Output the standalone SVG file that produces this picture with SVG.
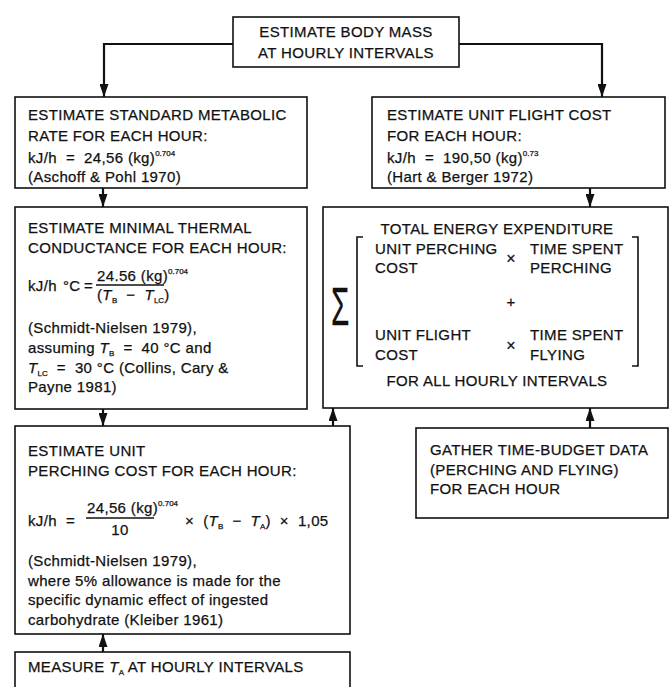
<svg xmlns="http://www.w3.org/2000/svg" width="671" height="687" viewBox="0 0 671 687">
<style>
text{font-family:"Liberation Sans",Arial,sans-serif;font-size:15px;fill:#111;stroke:#111;stroke-width:0.25;letter-spacing:0.35px}
.box{fill:#fff;stroke:#111;stroke-width:1.6}
.con{fill:none;stroke:#111;stroke-width:2.2}
.br{fill:none;stroke:#111;stroke-width:1.6}
.sup{font-size:8px;letter-spacing:0}
.sub{font-size:8px;letter-spacing:0}
.it{font-style:italic}
.mid{text-anchor:middle}
.op{font-size:16px}
</style>
<defs>
<marker id="ah" viewBox="0 0 13 9" refX="13" refY="4.5" markerWidth="13" markerHeight="9" markerUnits="userSpaceOnUse" orient="auto">
<path d="M0,0 L13,4.5 L0,9 z" fill="#111"/>
</marker>
</defs>
<rect width="671" height="687" fill="#fff"/>

<g id="connectors">
<path class="con" d="M233,44 H104 V97" marker-end="url(#ah)"/>
<path class="con" d="M459,44 H602 V97" marker-end="url(#ah)"/>
<path class="con" d="M103,188 V207" marker-end="url(#ah)"/>
<path class="con" d="M103,409 V426" marker-end="url(#ah)"/>
<path class="con" d="M103,652 V634" marker-end="url(#ah)"/>
<path class="con" d="M590,188 V207" marker-end="url(#ah)"/>
<path class="con" d="M333,426 V408" marker-end="url(#ah)"/>
<path class="con" d="M590,428 V408" marker-end="url(#ah)"/>
</g>

<g id="body-mass">
<rect class="box" x="233" y="17" width="226" height="50"/>
<text class="mid" x="346" y="37">ESTIMATE BODY MASS</text>
<text class="mid" x="346" y="58">AT HOURLY INTERVALS</text>
</g>

<g id="metabolic">
<rect class="box" x="15" y="97" width="292" height="91"/>
<text x="28" y="120">ESTIMATE STANDARD METABOLIC</text>
<text x="28" y="141">RATE FOR EACH HOUR:</text>
<text x="28" y="163" xml:space="preserve">kJ/h  =  24,56 (kg)<tspan class="sup" dy="-7">0.704</tspan></text>
<text x="28" y="182">(Aschoff &amp; Pohl 1970)</text>
</g>

<g id="flight-cost">
<rect class="box" x="372" y="97" width="293" height="91"/>
<text x="387" y="120">ESTIMATE UNIT FLIGHT COST</text>
<text x="387" y="141">FOR EACH HOUR:</text>
<text x="387" y="163" xml:space="preserve">kJ/h  =  190,50 (kg)<tspan class="sup" dy="-7">0.73</tspan></text>
<text x="387" y="182">(Hart &amp; Berger 1972)</text>
</g>

<g id="conductance">
<rect class="box" x="15" y="207" width="292" height="202"/>
<text x="28" y="233">ESTIMATE MINIMAL THERMAL</text>
<text x="28" y="253">CONDUCTANCE FOR EACH HOUR:</text>
<text x="28" y="291">kJ/h</text>
<text x="63" y="291">°C</text>
<text x="84" y="291">=</text>
<text x="97" y="281">24.56 (kg)<tspan class="sup" dy="-7">0.704</tspan></text>
<line x1="96" y1="285" x2="164" y2="285" stroke="#111" stroke-width="1.3"/>
<text x="97" y="300" xml:space="preserve">(<tspan class="it">T</tspan><tspan class="sub" dy="3">B</tspan><tspan dy="-3">  −  </tspan><tspan class="it">T</tspan><tspan class="sub" dy="3">LC</tspan><tspan dy="-3">)</tspan></text>
<text x="28" y="333">(Schmidt-Nielsen 1979),</text>
<text x="28" y="353" xml:space="preserve">assuming <tspan class="it">T</tspan><tspan class="sub" dy="3">B</tspan><tspan dy="-3">  =  40 °C and</tspan></text>
<text x="28" y="373" xml:space="preserve"><tspan class="it">T</tspan><tspan class="sub" dy="3">LC</tspan><tspan dy="-3">  =  30 °C (Collins, Cary &amp;</tspan></text>
<text x="28" y="392">Payne 1981)</text>
</g>

<g id="total-energy">
<rect class="box" x="323" y="207" width="345" height="201"/>
<text class="mid" x="497" y="234">TOTAL ENERGY EXPENDITURE</text>
<text transform="translate(331,325) scale(0.55,1)" style="font-size:54px;letter-spacing:0">Σ</text>
<path class="br" d="M363,237 H357 V366 H363"/>
<path class="br" d="M632,237 H638 V366 H632"/>
<text x="375" y="254">UNIT PERCHING</text>
<text x="375" y="273">COST</text>
<text class="mid op" x="511" y="264">×</text>
<text x="530" y="254">TIME SPENT</text>
<text x="530" y="273">PERCHING</text>
<text class="mid" x="511" y="307">+</text>
<text x="375" y="340">UNIT FLIGHT</text>
<text x="375" y="360">COST</text>
<text class="mid op" x="511" y="351">×</text>
<text x="530" y="340">TIME SPENT</text>
<text x="530" y="360">FLYING</text>
<text class="mid" x="497" y="386">FOR ALL HOURLY INTERVALS</text>
</g>

<g id="perching-cost">
<rect class="box" x="15" y="426" width="335" height="208"/>
<text x="28" y="456">ESTIMATE UNIT</text>
<text x="28" y="476">PERCHING COST FOR EACH HOUR:</text>
<text x="28" y="526" xml:space="preserve">kJ/h  =</text>
<text x="87" y="513">24,56 (kg)<tspan class="sup" dy="-7">0.704</tspan></text>
<line x1="86" y1="518" x2="154" y2="518" stroke="#111" stroke-width="1.3"/>
<text class="mid" x="120" y="535">10</text>
<text x="185" y="526" xml:space="preserve">×  (<tspan class="it">T</tspan><tspan class="sub" dy="3">B</tspan><tspan dy="-3">  −  </tspan><tspan class="it">T</tspan><tspan class="sub" dy="3">A</tspan><tspan dy="-3">)  ×  1,05</tspan></text>
<text x="28" y="566">(Schmidt-Nielsen 1979),</text>
<text x="28" y="586">where 5% allowance is made for the</text>
<text x="28" y="605">specific dynamic effect of ingested</text>
<text x="28" y="625">carbohydrate (Kleiber 1961)</text>
</g>

<g id="time-budget">
<rect class="box" x="416" y="428" width="252" height="90"/>
<text x="430" y="455">GATHER TIME-BUDGET DATA</text>
<text x="430" y="475">(PERCHING AND FLYING)</text>
<text x="430" y="494">FOR EACH HOUR</text>
</g>

<g id="measure-ta">
<rect class="box" x="15" y="652" width="335" height="45"/>
<text x="28" y="672" xml:space="preserve">MEASURE <tspan class="it">T</tspan><tspan class="sub" dy="3">A</tspan><tspan dy="-3"> AT HOURLY INTERVALS</tspan></text>
</g>
</svg>
